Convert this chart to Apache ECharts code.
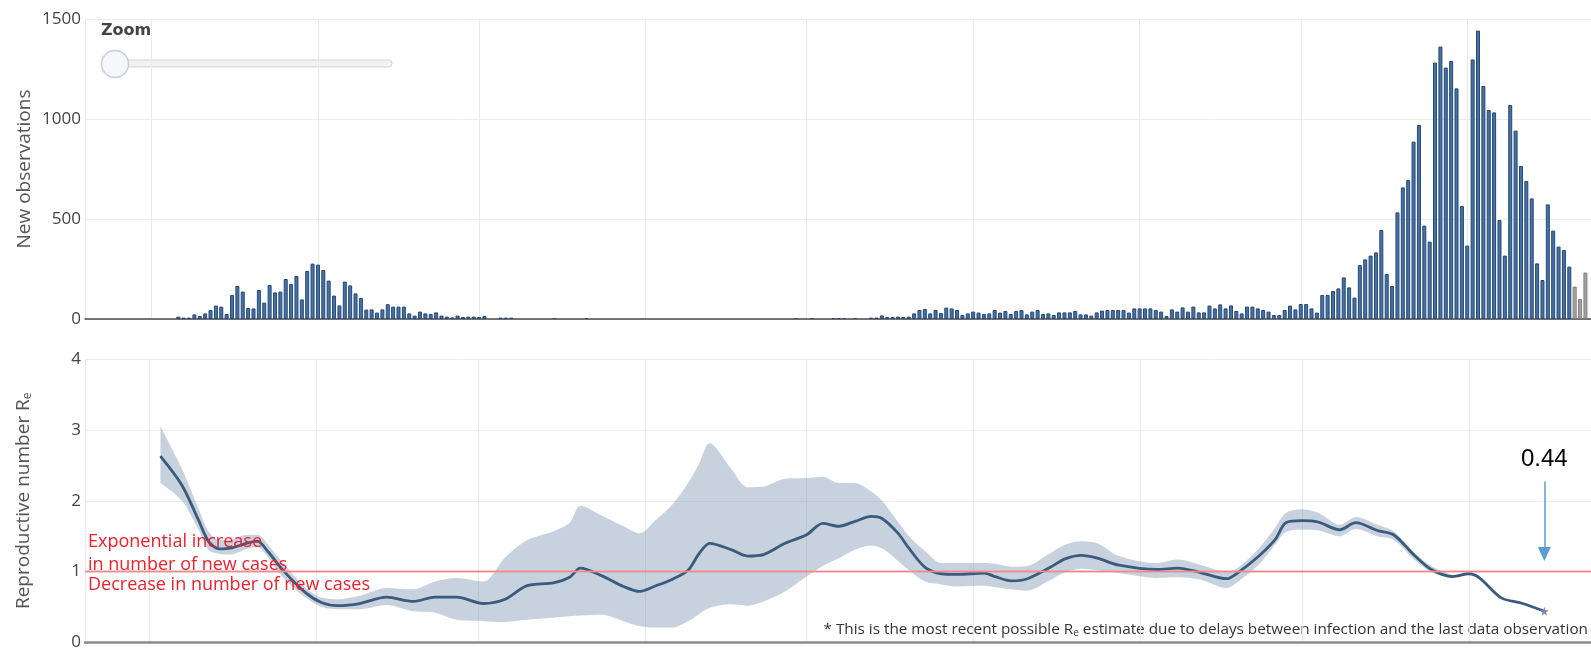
<!DOCTYPE html>
<html><head><meta charset="utf-8">
<script src="https://cdn.jsdelivr.net/npm/echarts@6/dist/echarts.min.js"></script>
<style>html,body{margin:0;padding:0;background:#fff;}#c{width:1591px;height:651px;}</style>
</head><body><div id="c"></div>
<script>
// ---------- data ----------
const axisRange = ['2020-02-18', '2020-11-23T16:00'];
const obsStart = '2020-03-06';
const newObs = [
  // Mar 6 - Mar 31
  12,7,7,23,15,28,45,67,62,25,120,165,137,55,53,145,82,170,133,137,200,175,215,98,240,277,
  // Apr
  272,245,192,117,68,187,168,128,105,47,48,32,48,74,62,62,62,28,17,37,28,25,33,17,12,8,17,10,12,12,
  // May
  10,15,0,0,7,7,7,0,0,0,0,0,0,0,5,0,0,0,0,0,5,0,0,0,0,0,0,0,0,0,0,
  // Jun
  0,0,0,0,0,0,0,0,0,0,0,0,0,0,0,0,0,0,0,0,0,0,0,0,0,0,0,0,5,0,
  // Jul
  0,5,0,0,0,5,5,5,0,5,0,0,7,7,18,10,10,12,10,12,28,45,50,28,45,30,57,53,45,20,28,
  // Aug
  37,32,25,28,45,32,40,25,40,45,23,37,45,25,28,20,33,33,33,40,23,23,17,33,42,45,45,45,45,32,53,
  // Sep
  53,53,53,45,37,15,48,37,58,37,62,33,33,67,53,73,53,68,40,28,62,62,53,45,37,20,20,45,67,48,
  // Oct
  75,75,53,32,120,120,140,153,208,158,107,270,298,317,333,445,225,165,533,658,695,887,970,467,387,1282,1362,1257,1290,1153,565,
  // Nov 1 - Nov 20
  367,1298,1442,1165,1045,1033,495,317,1070,942,765,690,603,278,195,573,442,362,345,262
];
const provisionalStart = '2020-11-21';
const provisionalObs = [162, 100, 232];
const obsTicks = [0, 1500, 500];
const rTicks = [0, 4, 1];

const rDates = ['2020-03-03','2020-03-07','2020-03-10','2020-03-12','2020-03-14','2020-03-16','2020-03-19','2020-03-21','2020-03-23','2020-03-26',
  '2020-03-30','2020-04-02','2020-04-05','2020-04-09','2020-04-14','2020-04-19','2020-04-23','2020-04-27','2020-05-02','2020-05-06',
  '2020-05-10','2020-05-15','2020-05-18','2020-05-20','2020-05-24','2020-05-28','2020-05-31','2020-06-03','2020-06-06','2020-06-09',
  '2020-06-11','2020-06-13','2020-06-17','2020-06-20','2020-06-23','2020-06-27','2020-07-01','2020-07-04','2020-07-07','2020-07-10',
  '2020-07-13','2020-07-15','2020-07-18','2020-07-20','2020-07-23','2020-07-26','2020-07-29','2020-08-03','2020-08-05','2020-08-08',
  '2020-08-11','2020-08-15','2020-08-18','2020-08-21','2020-08-24','2020-08-28','2020-09-04','2020-09-08','2020-09-12','2020-09-17',
  '2020-09-19','2020-09-23','2020-09-26','2020-09-28','2020-10-01','2020-10-04','2020-10-08','2020-10-11','2020-10-15','2020-10-18',
  '2020-10-22','2020-10-25','2020-10-29','2020-11-01','2020-11-03','2020-11-07','2020-11-11','2020-11-15'];
const rMean = [2.63,2.22,1.74,1.42,1.32,1.33,1.40,1.43,1.28,1.00,
  0.70,0.56,0.52,0.55,0.64,0.58,0.64,0.64,0.55,0.61,
  0.80,0.84,0.92,1.05,0.94,0.79,0.72,0.80,0.89,1.02,
  1.25,1.40,1.31,1.22,1.24,1.40,1.52,1.68,1.64,1.71,
  1.78,1.75,1.54,1.33,1.06,0.97,0.96,0.98,0.93,0.87,
  0.90,1.05,1.18,1.23,1.19,1.09,1.03,1.05,0.99,0.90,
  0.98,1.22,1.45,1.69,1.72,1.70,1.59,1.69,1.58,1.52,
  1.22,1.03,0.93,0.97,0.91,0.63,0.55,0.44];
const rLow = [2.25,2.00,1.60,1.30,1.25,1.24,1.32,1.35,1.20,0.90,
  0.63,0.50,0.47,0.47,0.53,0.44,0.42,0.32,0.30,0.29,
  0.32,0.35,0.37,0.38,0.39,0.30,0.23,0.21,0.21,0.30,
  0.40,0.49,0.54,0.52,0.58,0.72,0.93,1.08,1.19,1.31,
  1.37,1.33,1.15,1.02,0.86,0.82,0.79,0.80,0.78,0.75,
  0.73,0.87,0.99,1.04,1.02,0.98,0.91,0.92,0.89,0.77,
  0.85,1.10,1.38,1.56,1.59,1.58,1.50,1.60,1.50,1.45,
  1.16,0.99,0.90,null,null,null,null,null];
const rHigh = [3.05,2.45,1.90,1.56,1.45,1.45,1.52,1.52,1.38,1.10,
  0.77,0.63,0.61,0.66,0.77,0.75,0.86,0.91,0.86,1.20,
  1.44,1.57,1.69,1.93,1.79,1.64,1.54,1.73,1.94,2.25,
  2.52,2.81,2.45,2.19,2.20,2.31,2.32,2.34,2.25,2.25,
  2.13,2.00,1.70,1.50,1.29,1.12,1.12,1.12,1.11,1.07,
  1.08,1.25,1.38,1.43,1.40,1.22,1.12,1.17,1.10,1.00,
  1.05,1.33,1.62,1.83,1.88,1.83,1.66,1.77,1.66,1.57,
  1.26,1.08,0.95,null,null,null,null,null];
const lastEstimateLabel = '0.44';
const arrowSpan = [2.27, 1.25];

// ---------- helpers ----------
const DAY = 86400000;
function ts(s, add) {
  const [dPart, tPart] = s.split('T');
  const [y, m, d] = dPart.split('-').map(Number);
  let h = 0, mi = 0;
  if (tPart) { [h, mi] = tPart.split(':').map(Number); }
  return new Date(y, m - 1, d + (add || 0), h, mi).getTime();
}
const obsData = newObs.map((v, i) => [ts(obsStart, i), v]).filter(p => p[1] > 0);
const provData = provisionalObs.map((v, i) => [ts(provisionalStart, i), v]);
const lowData = rLow.map((v, i) => [ts(rDates[i]), v]);
const bandData = rHigh.map((v, i) => [ts(rDates[i]), (v == null || rLow[i] == null) ? null : +(v - rLow[i]).toFixed(3)]);
const meanData = rMean.map((v, i) => [ts(rDates[i]), v]);
const lastIdx = rMean.length - 1;
const lastTs = ts(rDates[lastIdx]);

const FONT = 'Open Sans';
const xCommon = {
  type: 'time', min: ts(axisRange[0]), max: ts(axisRange[1]),
  minInterval: 28 * DAY, maxInterval: 31 * DAY, splitNumber: 10,
  axisLabel: { show: false }, axisTick: { show: false },
  splitLine: { show: true, lineStyle: { color: '#e9e9e9', width: 1 } }
};
const yLabel = { color: '#444', fontSize: 17, fontFamily: FONT, margin: 4, formatter: v => String(v) };

const chart = echarts.init(document.getElementById('c'), null, { renderer: 'canvas' });
chart.setOption({
  animation: false,
  backgroundColor: '#fff',
  grid: [
    { left: 85, right: 0, top: 19, height: 300 },
    { left: 85, right: 0, top: 359, height: 284 }
  ],
  xAxis: [
    Object.assign({}, xCommon, { gridIndex: 0, axisLine: { show: true, lineStyle: { color: '#4a4a4a', width: 1.5 } } }),
    Object.assign({}, xCommon, { gridIndex: 1, axisLine: { show: true, lineStyle: { color: '#8c8c8c', width: 2.5 } } })
  ],
  yAxis: [
    { type: 'value', gridIndex: 0, min: obsTicks[0], max: obsTicks[1], interval: obsTicks[2],
      axisLine: { show: false }, axisTick: { show: false }, axisLabel: yLabel,
      splitLine: { lineStyle: { color: '#ececec' } },
      name: 'New observations', nameLocation: 'middle', nameGap: 51, nameRotate: 90, nameMoveOverlap: false,
      nameTextStyle: { color: '#555', fontSize: 19, fontFamily: FONT } },
    { type: 'value', gridIndex: 1, min: rTicks[0], max: rTicks[1], interval: rTicks[2],
      axisLine: { show: false }, axisTick: { show: false }, axisLabel: yLabel,
      splitLine: { lineStyle: { color: '#ececec' } },
      name: '{a|Reproductive number R}{s|e}', nameLocation: 'middle', nameGap: 51, nameRotate: 90, nameMoveOverlap: false,
      nameTextStyle: { color: '#555', fontSize: 19, fontFamily: FONT,
        rich: { a: { color: '#555', fontSize: 19, fontFamily: FONT },
                s: { color: '#555', fontSize: 12, fontFamily: FONT, padding: [9, 0, 0, 0] } } } }
  ],
  series: [
    { name: 'New observations', type: 'bar', xAxisIndex: 0, yAxisIndex: 0, data: obsData,
      barWidth: 4, barGap: '-100%',
      itemStyle: { color: '#4272a8', borderColor: '#294870', borderWidth: 1 } },
    { name: 'Provisional', type: 'bar', xAxisIndex: 0, yAxisIndex: 0, data: provData,
      barWidth: 4, barGap: '-100%',
      itemStyle: { color: '#a3a3a3', borderColor: '#7f7f7f', borderWidth: 1 } },
    { name: 'lower', type: 'line', xAxisIndex: 1, yAxisIndex: 1, data: lowData, stack: 'ci',
      smooth: 0.3, symbol: 'none', lineStyle: { opacity: 0 }, silent: true,
      markLine: {
        silent: true, symbol: ['none', 'none'],
        data: [
          { yAxis: 1, lineStyle: { color: '#f08a8a', width: 1.3, type: 'solid' },
            label: { show: true, position: 'insideStartTop', distance: [3, -4],
              formatter: 'Exponential increase\nin number of new cases',
              color: '#e8232f', fontSize: 18, lineHeight: 22.5, fontFamily: FONT } },
          { yAxis: 1, lineStyle: { color: '#f08a8a', width: 1.3, type: 'solid' },
            label: { show: true, position: 'insideStartBottom', distance: [3, 2],
              formatter: 'Decrease in number of new cases',
              color: '#e8232f', fontSize: 18, lineHeight: 22.5, fontFamily: FONT } }
        ]
      } },
    { name: 'band', type: 'line', xAxisIndex: 1, yAxisIndex: 1, data: bandData, stack: 'ci',
      smooth: 0.3, symbol: 'none', lineStyle: { opacity: 0 }, silent: true,
      areaStyle: { color: 'rgba(140,160,185,0.48)', opacity: 1 } },
    { name: 'Re', type: 'line', xAxisIndex: 1, yAxisIndex: 1, data: meanData,
      smooth: 0.3, symbol: 'none', lineStyle: { color: '#3a5a7e', width: 2.8 },
      markPoint: {
        silent: true,
        data: [{ coord: [lastTs, rMean[lastIdx]],
          symbol: 'path://M0,-5L1.2,-1.6L4.8,-1.5L1.9,0.6L2.9,4L0,2L-2.9,4L-1.9,0.6L-4.8,-1.5L-1.2,-1.6Z',
          symbolSize: 9, itemStyle: { color: '#7a8ea8' }, label: { show: false } }]
      },
      markLine: {
        silent: true, symbol: ['none', 'none'],
        data: [[
          { coord: [lastTs, arrowSpan[0]], symbol: 'none',
            lineStyle: { color: '#5b9bd5', width: 1.5, type: 'solid' },
            label: { show: true, position: 'start', distance: 10, formatter: lastEstimateLabel,
              color: '#000', fontSize: 24, fontFamily: 'Liberation Sans' } },
          { coord: [lastTs, arrowSpan[1]], symbol: 'triangle', symbolSize: [13, 14] }
        ]]
      } }
  ],
  graphic: [
    { type: 'text', x: 101, y: 31, style: { text: 'Zoom', font: 'bold 16px "DejaVu Sans"', fill: '#444', verticalAlign: 'middle' } },
    { type: 'rect', shape: { x: 115, y: 60, width: 277, height: 7, r: 3.5 }, style: { fill: '#f1f2f4', stroke: '#cfd2d6', lineWidth: 1 } },
    { type: 'circle', shape: { cx: 115, cy: 64, r: 13.5 }, style: { fill: '#f5f7fa', stroke: '#c9ced6', lineWidth: 1.5 } },
    { type: 'text', x: 1588, y: 630,
      style: { text: '{t|* This is the most recent possible R}{s|e}{t| estimate due to delays between infection and the last data observation}',
        align: 'right', verticalAlign: 'middle',
        rich: { t: { fontSize: 15.3, fontFamily: FONT, fill: '#333', color: '#333' },
                s: { fontSize: 10, fontFamily: FONT, fill: '#333', color: '#333', padding: [6, 0, 0, 0] } } } }
  ]
});
</script></body></html>
